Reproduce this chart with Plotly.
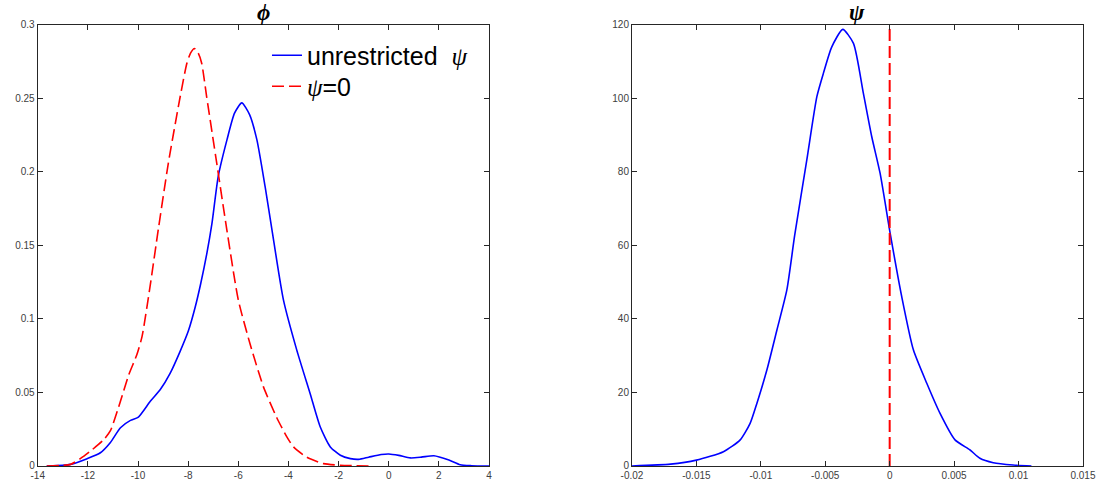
import plotly.graph_objects as go

# ---------- data ----------
phi_unres_x = [-13.64, -13.0, -12.69, -12.03, -11.5, -11.1, -10.7, -10.3, -10.0, -9.51, -9.11, -8.72,
               -8.32, -7.99, -7.72, -7.5, -7.25, -7.05, -6.8, -6.45, -6.15, -5.86, -5.55, -5.26, -4.93,
               -4.66, -4.2, -3.67, -3.13, -2.73, -2.33, -1.93, -1.53, -1.2, -0.8, -0.3, 0.0, 0.4, 0.86,
               1.3, 1.8, 2.4, 2.85, 3.3, 4.0]
phi_unres_y = [0, 0.0004, 0.0011, 0.005, 0.009, 0.016, 0.026, 0.031, 0.033, 0.044, 0.052, 0.063,
               0.078, 0.092, 0.108, 0.124, 0.145, 0.165, 0.197, 0.222, 0.240, 0.247, 0.239, 0.222, 0.19,
               0.161, 0.113, 0.079, 0.049, 0.0265, 0.013, 0.0073, 0.005, 0.0045, 0.006, 0.0078, 0.0082, 0.0072,
               0.0055, 0.006, 0.007, 0.004, 0.0008, 0.0002, 0]

phi_res_x = [-13.64, -13.0, -12.69, -12.3, -11.89, -11.36, -11.1, -10.7, -10.37, -10.04, -9.84, -9.52,
             -9.19, -8.79, -8.32, -8.05, -7.9, -7.75, -7.6, -7.46, -7.26, -6.86, -6.46, -6.0, -5.53, -5.0,
             -4.47, -4.07, -3.8, -3.27, -2.6, -1.93, -1.3, -0.73]
phi_res_y = [0, 0.0004, 0.0011, 0.005, 0.0102, 0.018, 0.024, 0.044, 0.062, 0.076, 0.088, 0.122,
             0.161, 0.206, 0.251, 0.274, 0.281, 0.284, 0.281, 0.274, 0.251, 0.206, 0.161, 0.113, 0.083, 0.054,
             0.033, 0.020, 0.013, 0.006, 0.0016, 0.0005, 0.0002, 0]

psi_x = [-0.02, -0.017, -0.015, -0.0129, -0.0116, -0.01083, -0.0103, -0.00953, -0.00875, -0.00798,
         -0.00737, -0.00643, -0.00565, -0.00514, -0.0045, -0.00364, -0.00281, -0.00204, -0.00139, -0.00074,
         0.00003, 0.00094, 0.00184, 0.00288, 0.00391, 0.00507, 0.00624, 0.007, 0.00804, 0.00957, 0.011]
psi_y = [0, 0.5, 1.6, 3.9, 7.1, 11.6, 17.1, 26.1, 37, 47.9, 62.8, 83.3, 100.5, 106.9, 114, 118.8, 115,
         101.4, 89.6, 79.6, 63.5, 46, 31.6, 22.5, 14.3, 7.1, 4.35, 2.1, 0.9, 0.27, 0]

psi_zero_x = [0, 0]
psi_zero_y = [0, 120]

phi_xticks = [-14, -12, -10, -8, -6, -4, -2, 0, 2, 4]
phi_xticklabels = ["-14", "-12", "-10", "-8", "-6", "-4", "-2", "0", "2", "4"]
phi_yticks = [0, 0.05, 0.1, 0.15, 0.2, 0.25, 0.3]
phi_yticklabels = ["0", "0.05", "0.1", "0.15", "0.2", "0.25", "0.3"]
psi_xticks = [-0.02, -0.015, -0.01, -0.005, 0, 0.005, 0.01, 0.015]
psi_xticklabels = ["-0.02", "-0.015", "-0.01", "-0.005", "0", "0.005", "0.01", "0.015"]
psi_yticks = [0, 20, 40, 60, 80, 100, 120]
psi_yticklabels = ["0", "20", "40", "60", "80", "100", "120"]

BLUE = "#0000FF"
RED = "#FF0000"
AX = "#262626"
SERIF = "Liberation Serif"
SANS = "Liberation Sans, Arial, sans-serif"

fig = go.Figure()

fig.add_trace(go.Scatter(
    x=phi_unres_x, y=phi_unres_y, mode="lines",
    line=dict(color=BLUE, width=1.6, shape="spline", smoothing=0.6),
    name="unrestricted\u00a0\u00a0<span style='font-family:Liberation Serif'><i>ψ</i></span>",
    xaxis="x", yaxis="y", showlegend=True, legend="legend"))
fig.add_trace(go.Scatter(
    x=phi_res_x, y=phi_res_y, mode="lines",
    line=dict(color=RED, width=1.6, dash="12px,5px", shape="spline", smoothing=0.6),
    name="<span style='font-family:Liberation Serif'><i>ψ</i></span>=0",
    xaxis="x", yaxis="y", showlegend=True, legend="legend2"))
fig.add_trace(go.Scatter(
    x=psi_x, y=psi_y, mode="lines",
    line=dict(color=BLUE, width=1.6, shape="spline", smoothing=0.6),
    xaxis="x2", yaxis="y2", showlegend=False))
fig.add_trace(go.Scatter(
    x=psi_zero_x, y=psi_zero_y, mode="lines",
    line=dict(color=RED, width=2, dash="12px,5px"),
    xaxis="x2", yaxis="y2", showlegend=False))

axis_common = dict(
    showline=True, linecolor=AX, linewidth=1, mirror="ticks",
    ticks="inside", ticklen=5, tickcolor=AX, tickwidth=1,
    showgrid=False, zeroline=False, automargin=False,
    tickfont=dict(family=SANS, size=10, color="#404040"),
    tickmode="array",
)

legend_common = dict(xanchor="left", yanchor="top", bgcolor="rgba(0,0,0,0)", borderwidth=0,
                     font=dict(family=SANS, size=25, color="black"), itemwidth=30)

ydom = [0.049, 0.949]
fig.update_layout(
    width=1096, height=490,
    margin=dict(l=0, r=0, t=0, b=0, autoexpand=False),
    paper_bgcolor="white", plot_bgcolor="white",
    xaxis=dict(axis_common, domain=[0.0344, 0.4462], range=[-14, 4],
               tickvals=phi_xticks, ticktext=phi_xticklabels, anchor="y"),
    yaxis=dict(axis_common, domain=ydom, range=[0, 0.3],
               tickvals=phi_yticks, ticktext=phi_yticklabels, anchor="x"),
    xaxis2=dict(axis_common, domain=[0.5766, 0.9881], range=[-0.02, 0.015],
                tickvals=psi_xticks, ticktext=psi_xticklabels, anchor="y2"),
    yaxis2=dict(axis_common, domain=ydom, range=[0, 120],
                tickvals=psi_yticks, ticktext=psi_yticklabels, anchor="x2"),
    legend=dict(legend_common, x=0.2436, y=0.9337),
    legend2=dict(legend_common, x=0.2436, y=0.8704),
    showlegend=True,
    annotations=[
        dict(text="<b><i>ϕ</i></b>", x=(0.0344 + 0.4462) / 2, y=0.9735, xref="paper", yref="paper",
             xanchor="center", yanchor="middle", showarrow=False,
             font=dict(family=SERIF, size=23, color="black")),
        dict(text="<b><i>ψ</i></b>", x=(0.5766 + 0.9881) / 2, y=0.9735, xref="paper", yref="paper",
             xanchor="center", yanchor="middle", showarrow=False,
             font=dict(family=SERIF, size=23, color="black")),
    ],
)

fig.write_html("out.html")
